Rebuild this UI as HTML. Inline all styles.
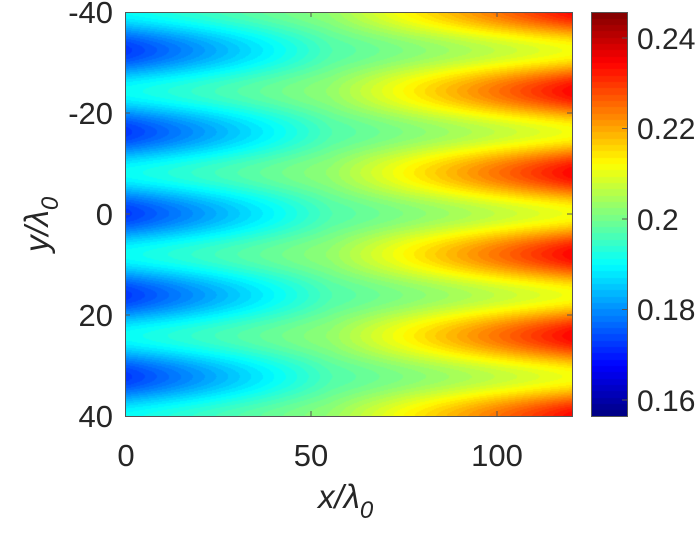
<!DOCTYPE html>
<html><head><meta charset="utf-8"><style>
html,body{margin:0;padding:0;background:#fff;width:700px;height:537px;overflow:hidden}
#c{position:absolute;left:125px;top:12px}
#cb{position:absolute;left:591px;top:12px}
svg{position:absolute;left:0;top:0}
</style></head><body>
<canvas id="c" width="447" height="404"></canvas>
<canvas id="cb" width="36" height="404"></canvas>
<svg width="700" height="537" font-family="Liberation Sans, sans-serif" fill="#262626">
<g stroke="#555" stroke-width="1" fill="none">
<rect x="125.5" y="12.5" width="447" height="404"/>
<rect x="591.5" y="12.5" width="36" height="404"/>
<path d="M125 113h5M125 214h5M125 315h5M572 113h-5M572 214h-5M572 315h-5M311 416v-5M497 416v-5M311 12v5M497 12v5"/>
<path d="M627 400h-5M627 309.5h-5M627 219h-5M627 128.5h-5M627 38h-5"/>
</g>
<g font-size="31" text-anchor="end">
<text x="113" y="23">-40</text>
<text x="113" y="124">-20</text>
<text x="113" y="225">0</text>
<text x="113" y="326">20</text>
<text x="113" y="427">40</text>
</g>
<g font-size="31" text-anchor="middle">
<text x="126" y="466">0</text>
<text x="311" y="466">50</text>
<text x="497" y="466">100</text>
</g>
<g font-size="30">
<text x="637" y="411">0.16</text>
<text x="637" y="320">0.18</text>
<text x="637" y="230">0.2</text>
<text x="637" y="139">0.22</text>
<text x="637" y="49">0.24</text>
</g>
<text x="318" y="508" font-size="33" font-style="italic">x/λ<tspan font-size="24" dy="10">0</tspan></text>
<text transform="translate(48,252) rotate(-90)" font-size="33" font-style="italic">y/λ<tspan font-size="24" dy="10">0</tspan></text>
</svg>
<script>
function jet(t){t=Math.max(0,Math.min(1,t));
function f(a){return Math.max(0,Math.min(1,1.5-Math.abs(4*t-a)));}
return [f(3),f(2),f(1)].map(v=>Math.round(v*255));}
var lo=0.1565,hi=0.2457;
var c=document.getElementById('c'),ctx=c.getContext('2d');
var W=447,H=404,img=ctx.createImageData(W,H);
for(var j=0;j<H;j++){var y=-40+80*j/H;
 for(var i=0;i<W;i++){var x=120*i/W;
  var u=x/120;
  var m=0.1815+0.0415*Math.pow(u,1.05);
  var A=x<55?0.003+0.006*(55-x)/55:0.003+0.0085*(x-55)/65;
  var v=m-A*Math.cos(2*Math.PI*(y+0.2)/16.15);
  var t=(v-lo)/(hi-lo);t=Math.floor(t*64)/64+1/128;
  var col=jet(t),k=(j*W+i)*4;
  img.data[k]=col[0];img.data[k+1]=col[1];img.data[k+2]=col[2];img.data[k+3]=255;}}
ctx.putImageData(img,0,0);
var cb=document.getElementById('cb'),cx=cb.getContext('2d');
for(var j=0;j<404;j++){var t=1-j/404;t=Math.floor(t*64)/64+1/128;var col=jet(t);
cx.fillStyle='rgb('+col.join(',')+')';cx.fillRect(0,j,36,1);}
</script>
</body></html>
